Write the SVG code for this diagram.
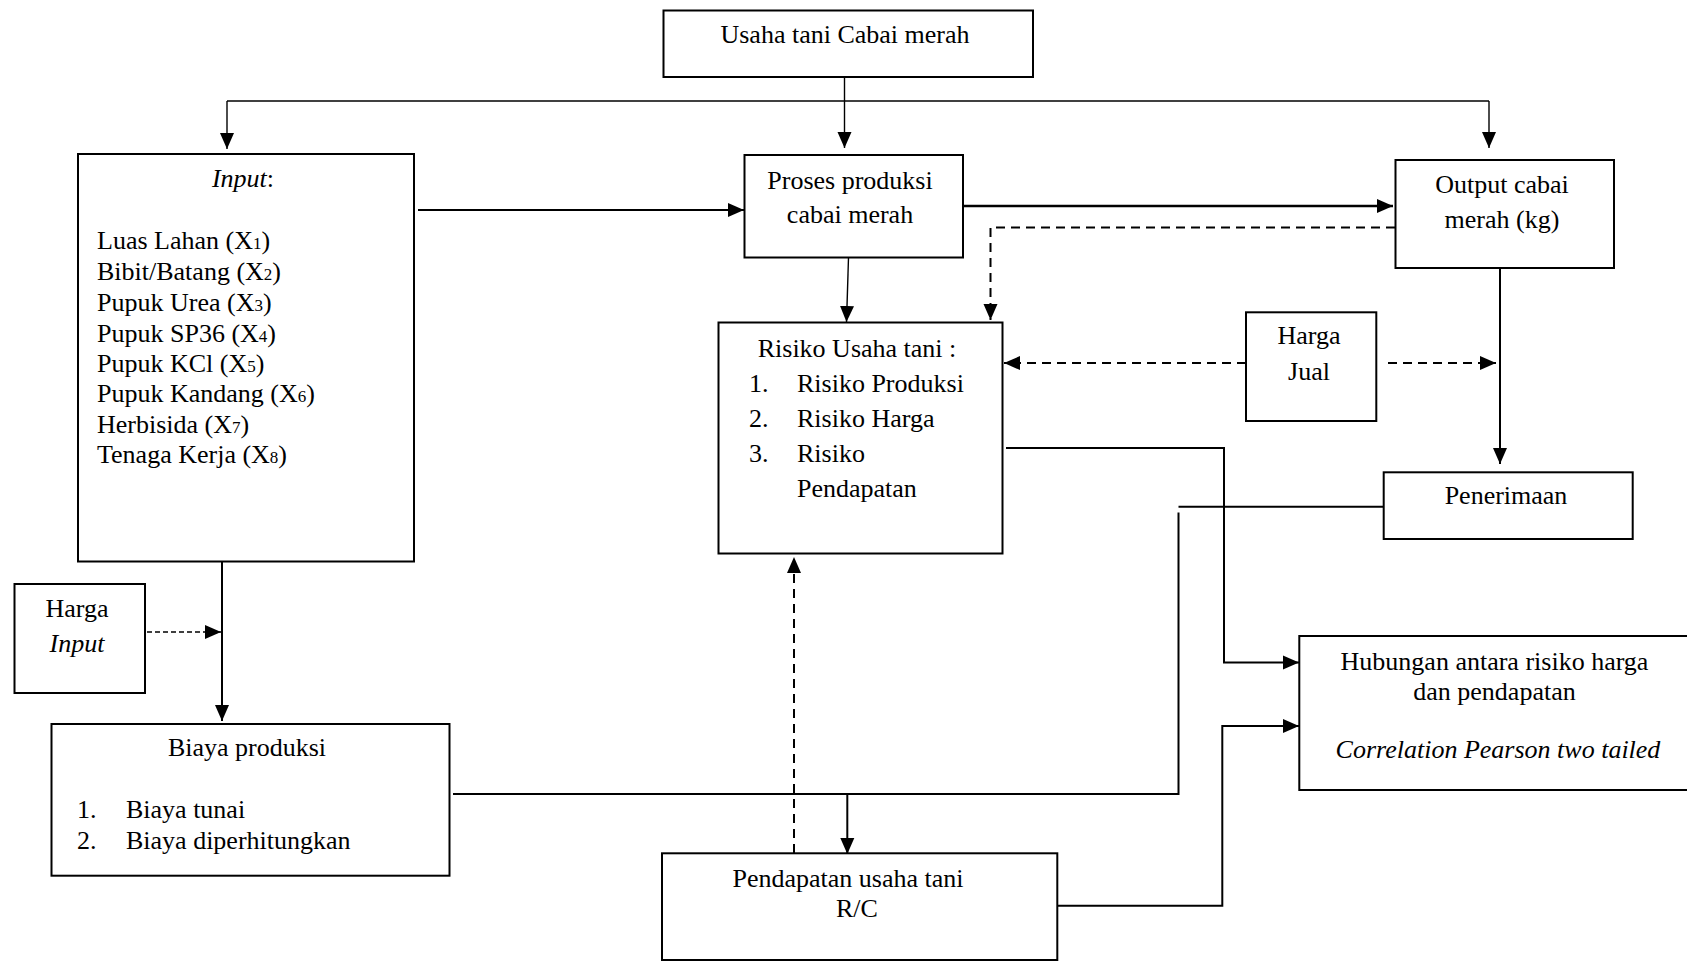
<svg xmlns="http://www.w3.org/2000/svg" width="1687" height="961" viewBox="0 0 1687 961">
<style>
  .box{fill:#fff;stroke:#000;stroke-width:2}
  .t{font-family:"Liberation Serif","Times New Roman",serif;font-size:26px;fill:#000}
  .c{text-anchor:middle}
  .i{font-style:italic}
  .sub{font-size:17px}
  .ln{fill:none;stroke:#000;stroke-width:2}
  .thin{stroke-width:1.4}
  .thick{stroke-width:2.6}
  .dash{stroke-dasharray:9 6}
  .dash2{stroke-dasharray:5 3;stroke-width:1.5}
</style>
<defs>
  <marker id="ah" viewBox="0 0 16 16" refX="16" refY="8" markerWidth="16" markerHeight="16" markerUnits="userSpaceOnUse" orient="auto">
    <path d="M0,1 L16,8 L0,15 z" fill="#000"/>
  </marker>
</defs>
<rect width="1687" height="961" fill="#fff"/>

<g id="connectors">
  <path class="ln thin" d="M844.5,77 V148" marker-end="url(#ah)"/>
  <path class="ln thin" d="M227,101 H1489"/>
  <path class="ln thin" d="M227,101 V149" marker-end="url(#ah)"/>
  <path class="ln thin" d="M1489,101 V148" marker-end="url(#ah)"/>
  <path class="ln" d="M418,210 H744" marker-end="url(#ah)"/>
  <path class="ln thick" d="M963,206 H1393" marker-end="url(#ah)"/>
  <path class="ln dash" d="M1395,227.5 H990.5 V320" marker-end="url(#ah)"/>
  <path class="ln thin" d="M848.5,257.5 L846.5,322" marker-end="url(#ah)"/>
  <path class="ln dash" d="M1246,363 H1004" marker-end="url(#ah)"/>
  <path class="ln dash" d="M1388,363 H1496" marker-end="url(#ah)"/>
  <path class="ln" d="M1500,268 V464" marker-end="url(#ah)"/>
  <path class="ln" d="M1006,448 H1224 V662.5 H1299" marker-end="url(#ah)"/>
  <path class="ln" d="M1383.5,506.7 H1178.5"/>
  <path class="ln" d="M453,794 H1178.5 V512.5"/>
  <path class="ln" d="M847.3,794 V854" marker-end="url(#ah)"/>
  <path class="ln dash" d="M794,853 V557" marker-end="url(#ah)"/>
  <path class="ln" d="M1057,905.7 H1222.3 V726 H1299" marker-end="url(#ah)"/>
  <path class="ln" d="M222,561 V721" marker-end="url(#ah)"/>
  <path class="ln dash2" d="M147,632 H221" marker-end="url(#ah)"/>
</g>

<g id="node-usaha">
  <rect class="box" x="663.5" y="10.5" width="369.5" height="66.5"/>
  <text class="t c" x="845" y="43">Usaha tani Cabai merah</text>
</g>

<g id="node-input">
  <rect class="box" x="78" y="154" width="336" height="407.5"/>
  <text class="t c" x="243" y="186.5"><tspan class="i">Input</tspan>:</text>
  <text class="t" x="97" y="249.3">Luas Lahan (X<tspan class="sub">1</tspan>)</text>
  <text class="t" x="97" y="280">Bibit/Batang (X<tspan class="sub">2</tspan>)</text>
  <text class="t" x="97" y="310.7">Pupuk Urea (X<tspan class="sub">3</tspan>)</text>
  <text class="t" x="97" y="341.5">Pupuk SP36 (X<tspan class="sub">4</tspan>)</text>
  <text class="t" x="97" y="371.7">Pupuk KCl (X<tspan class="sub">5</tspan>)</text>
  <text class="t" x="97" y="402.3">Pupuk Kandang (X<tspan class="sub">6</tspan>)</text>
  <text class="t" x="97" y="432.7">Herbisida (X<tspan class="sub">7</tspan>)</text>
  <text class="t" x="97" y="463.3">Tenaga Kerja (X<tspan class="sub">8</tspan>)</text>
</g>

<g id="node-proses">
  <rect class="box" x="744.5" y="155" width="218.5" height="102.5"/>
  <text class="t c" x="850" y="189.3">Proses produksi</text>
  <text class="t c" x="850" y="223.3">cabai merah</text>
</g>

<g id="node-output">
  <rect class="box" x="1395.5" y="160" width="218.5" height="108"/>
  <text class="t c" x="1502" y="193.3">Output cabai</text>
  <text class="t c" x="1502" y="228">merah (kg)</text>
</g>

<g id="node-risiko">
  <rect class="box" x="718.5" y="322.5" width="284" height="231"/>
  <text class="t c" x="857" y="356.7">Risiko Usaha tani :</text>
  <text class="t" x="749" y="391.7">1.</text>
  <text class="t" x="797" y="391.7">Risiko Produksi</text>
  <text class="t" x="749" y="426.7">2.</text>
  <text class="t" x="797" y="426.7">Risiko Harga</text>
  <text class="t" x="749" y="461.7">3.</text>
  <text class="t" x="797" y="461.7">Risiko</text>
  <text class="t" x="797" y="496.7">Pendapatan</text>
</g>

<g id="node-hargajual">
  <rect class="box" x="1246" y="312.3" width="130.3" height="108.7"/>
  <text class="t c" x="1309" y="344">Harga</text>
  <text class="t c" x="1309" y="380">Jual</text>
</g>

<g id="node-penerimaan">
  <rect class="box" x="1383.7" y="472.3" width="249" height="66.7"/>
  <text class="t c" x="1506" y="504">Penerimaan</text>
</g>

<g id="node-hubungan">
  <rect class="box" x="1299.3" y="636" width="400" height="154"/>
  <text class="t c" x="1494.5" y="670">Hubungan antara risiko harga</text>
  <text class="t c" x="1494.5" y="700">dan pendapatan</text>
  <text class="t c i" x="1498" y="758">Correlation Pearson two tailed</text>
</g>

<g id="node-hargainput">
  <rect class="box" x="14.5" y="584" width="130.5" height="109"/>
  <text class="t c" x="77" y="617.3">Harga</text>
  <text class="t c i" x="77" y="651.7">Input</text>
</g>

<g id="node-biaya">
  <rect class="box" x="51.5" y="724" width="398" height="151.7"/>
  <text class="t c" x="247" y="755.7">Biaya produksi</text>
  <text class="t" x="77" y="818.3">1.</text>
  <text class="t" x="126" y="818.3">Biaya tunai</text>
  <text class="t" x="77" y="849.3">2.</text>
  <text class="t" x="126" y="849.3">Biaya diperhitungkan</text>
</g>

<g id="node-pendapatan">
  <rect class="box" x="662" y="853.3" width="395.3" height="106.7"/>
  <text class="t c" x="848" y="886.7">Pendapatan usaha tani</text>
  <text class="t c" x="857" y="916.7">R/C</text>
</g>
</svg>
